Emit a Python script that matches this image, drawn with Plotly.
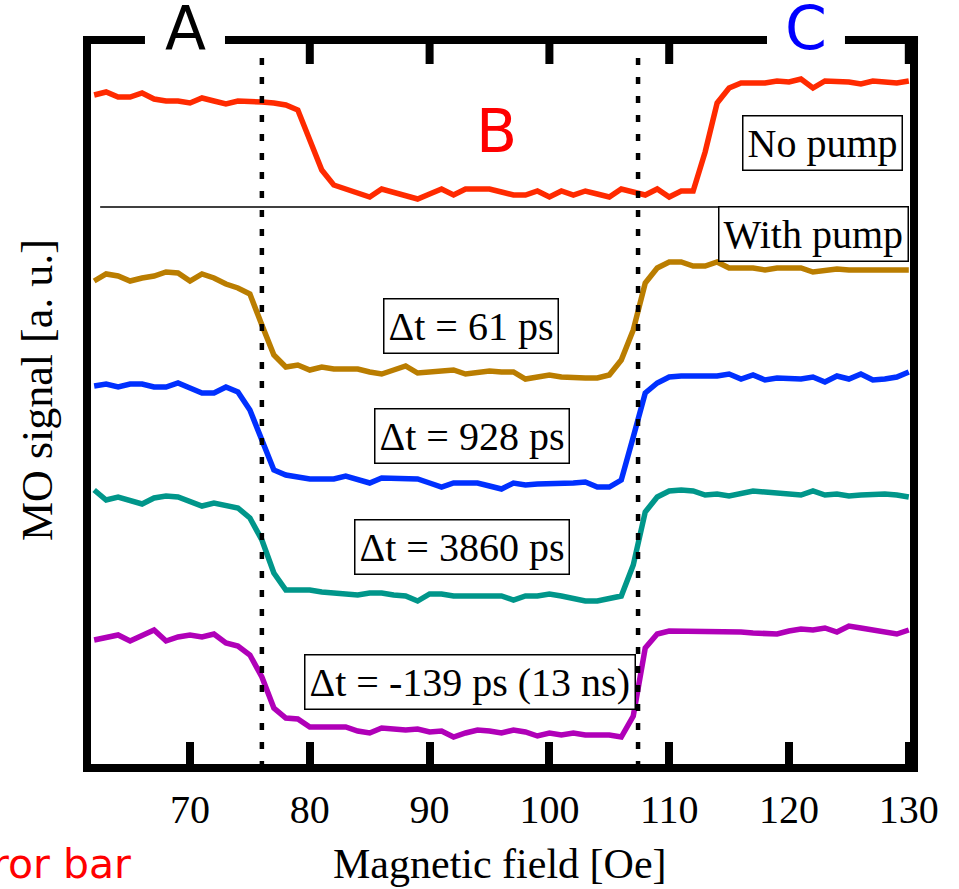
import plotly.graph_objects as go

field_oe = [62, 63, 64, 65, 66, 67, 68, 69, 70, 71, 72, 73, 74, 75, 76, 77, 78, 79, 80,
            81, 82, 83, 84, 85, 86, 87, 88, 89, 90, 91, 92, 93, 94, 95, 96, 97, 98, 99, 100,
            101, 102, 103, 104, 105, 106, 107, 108, 109, 110, 111, 112, 113, 114, 115, 116,
            117, 118, 119, 120, 121, 122, 123, 124, 125, 126, 127, 128, 129, 130]

no_pump = [673, 676, 671, 671, 675, 669, 667, 667, 665, 670, 667, 664, 667, 667, 666, 665, 663, 658, 628,
           598, 583, 579, 576, 571, 579, 576, 572, 569, 574, 579, 573, 579, 579, 579, 576, 573, 573, 577, 571,
           577, 573, 577, 574, 571, 579, 576, 573, 579, 571, 577, 577, 616, 665, 680, 685,
           685, 685, 687, 686, 689, 680, 687, 687, 686, 684, 687, 686, 685, 687]

dt_61 = [487, 494, 492, 487, 490, 492, 496, 495, 487, 494, 490, 484, 480, 474, 443, 413, 401, 403, 398,
         401, 399, 399, 399, 396, 394, 398, 402, 395, 396, 397, 398, 394, 396, 397, 396, 396, 389, 391, 393,
         391, 390, 390, 390, 393, 408, 438, 485, 500, 506, 506, 502, 502, 506, 500, 500,
         500, 498, 500, 500, 500, 496, 498, 499, 498, 498, 498, 498, 498, 498]

dt_928 = [382, 384, 381, 384, 384, 381, 381, 385, 380, 375, 375, 381, 376, 358, 328, 298, 293, 291, 289,
          289, 289, 292, 289, 285, 290, 290, 290, 289, 285, 281, 285, 285, 285, 282, 279, 285, 283, 284, 284,
          284, 285, 286, 281, 281, 288, 331, 375, 385, 391, 392, 392, 393, 392, 394, 389,
          393, 388, 390, 390, 389, 391, 386, 392, 389, 394, 388, 389, 391, 396]

dt_3860 = [278, 268, 271, 268, 264, 270, 272, 271, 266, 262, 265, 263, 260, 250, 228, 195, 178, 178, 178,
           176, 175, 173, 173, 175, 175, 173, 172, 167, 174, 174, 172, 172, 172, 171, 172, 168, 172, 172, 174,
           172, 170, 167, 167, 170, 172, 203, 256, 271, 277, 278, 277, 273, 274, 272, 274,
           277, 276, 275, 275, 273, 277, 273, 274, 272, 273, 274, 274, 273, 271]

dt_m139 = [128, 131, 133, 127, 132, 138, 127, 131, 133, 131, 134, 125, 122, 113, 91, 60, 50, 49, 41,
           41, 40, 41, 37, 35, 40, 39, 38, 39, 36, 37, 31, 35, 38, 37, 35, 38, 36, 32, 35,
           33, 35, 33, 33, 33, 31, 52, 120, 134, 137, 137, 137, 137, 136, 136, 136,
           135, 135, 134, 137, 139, 138, 140, 136, 142, 140, 138, 135, 134, 138]

series = [
    ("No pump", no_pump, "#FF2A00"),
    ("Δt = 61 ps", dt_61, "#BA7D00"),
    ("Δt = 928 ps", dt_928, "#0030FF"),
    ("Δt = 3860 ps", dt_3860, "#00968A"),
    ("Δt = -139 ps (13 ns)", dt_m139, "#B000B8"),
]

x_ticks = [70, 80, 90, 100, 110, 120, 130]
top_ticks = [80, 90, 100, 110, 130]
switch_fields = [76.0, 107.4]

# label boxes: (text, x [Oe], y [a.u.])
label_boxes = [
    ("No pump", 122.8, 625),
    ("With pump", 122.05, 534),
    ("Δt = 61 ps", 93.46, 442),
    ("Δt = 928 ps", 93.5, 332.5),
    ("Δt = 3860 ps", 92.7, 221),
    ("Δt = -139 ps (13 ns)", 93.33, 86),
]
# region letters: (text, paper x, paper y, colour)
region_letters = [("A", 0.1148, 1.0165, "#000000"),
                  ("B", 0.4957, 0.8745, "#FF0000"),
                  ("C", 0.8730, 1.0172, "#0000FF")]

SERIF = "Liberation Serif, Times New Roman, serif"
SANS = "DejaVu Sans, Verdana, sans-serif"

fig = go.Figure()
for name, vals, col in series:
    fig.add_trace(go.Scatter(x=field_oe, y=vals, mode="lines", name=name,
                             line=dict(color=col, width=5.5), showlegend=False,
                             hoverinfo="skip"))

shapes = []
# separator between no-pump and with-pump
shapes.append(dict(type="line", xref="x", yref="y", x0=62.5, x1=114.1, y0=561, y1=561,
                   line=dict(color="black", width=1.5), layer="above"))
for xf in switch_fields:
    shapes.append(dict(type="line", xref="x", yref="y", x0=xf, x1=xf, y0=0, y1=720,
                       line=dict(color="black", width=4.5, dash="7px,12px"), layer="above"))
# top frame with gaps for letters
for a, b in [(-0.00977, 0.0659), (0.1636, 0.8254), (0.9206, 1.0098)]:
    shapes.append(dict(type="line", xref="paper", yref="paper", x0=a, x1=b, y0=1, y1=1,
                       line=dict(color="black", width=8), layer="above"))
for t in top_ticks:
    shapes.append(dict(type="line", xref="x", yref="paper", x0=t, x1=t, y0=1, y1=1 - 24 / 724,
                       line=dict(color="black", width=8), layer="above"))

annotations = []
for txt, xa, ya in label_boxes:
    annotations.append(dict(text=txt, x=xa, y=ya, xref="x", yref="y", showarrow=False,
                            xanchor="center", yanchor="middle",
                            font=dict(family=SERIF, size=40, color="black"),
                            bgcolor="white", bordercolor="black", borderwidth=1.5, borderpad=4))
for txt, xa, ya, col in region_letters:
    annotations.append(dict(text=txt, x=xa, y=ya, xref="paper", yref="paper", showarrow=False,
                            xanchor="center", yanchor="middle",
                            font=dict(family=SANS, size=60, color=col)))
annotations.append(dict(text="Magnetic field [Oe]", xref="paper", yref="paper",
                        x=(500 - 91) / 819, y=(764 - 864) / 724, xanchor="center", yanchor="middle",
                        showarrow=False, font=dict(family=SERIF, size=42, color="black")))
annotations.append(dict(text="MO signal [a. u.]", textangle=-90, xref="paper", yref="paper",
                        x=(37 - 91) / 819, y=(764 - 390) / 724, xanchor="center", yanchor="middle",
                        showarrow=False, font=dict(family=SERIF, size=44, color="black")))
annotations.append(dict(text="Error bar", xref="paper", yref="paper", xanchor="right", yanchor="middle",
                        x=(133 - 91) / 819, y=(764 - 864) / 724, showarrow=False,
                        font=dict(family=SANS, size=41, color="#FF0000")))

fig.update_layout(
    width=959, height=889,
    margin=dict(l=91, r=49, t=40, b=125),
    paper_bgcolor="white", plot_bgcolor="white",
    shapes=shapes, annotations=annotations,
    xaxis=dict(range=[61.736, 130.10], tickvals=x_ticks, ticktext=[str(v) for v in x_ticks],
               ticks="inside", ticklen=22, tickwidth=8, tickcolor="black",
               showline=True, linewidth=8, linecolor="black", mirror=False,
               showgrid=False, zeroline=False, ticklabelstandoff=3,
               tickfont=dict(family=SERIF, size=40, color="black")),
    yaxis=dict(range=[4, 728], showticklabels=False, ticks="",
               showline=True, linewidth=8, linecolor="black", mirror=True,
               showgrid=False, zeroline=False),
)

fig.write_html("out.html")
